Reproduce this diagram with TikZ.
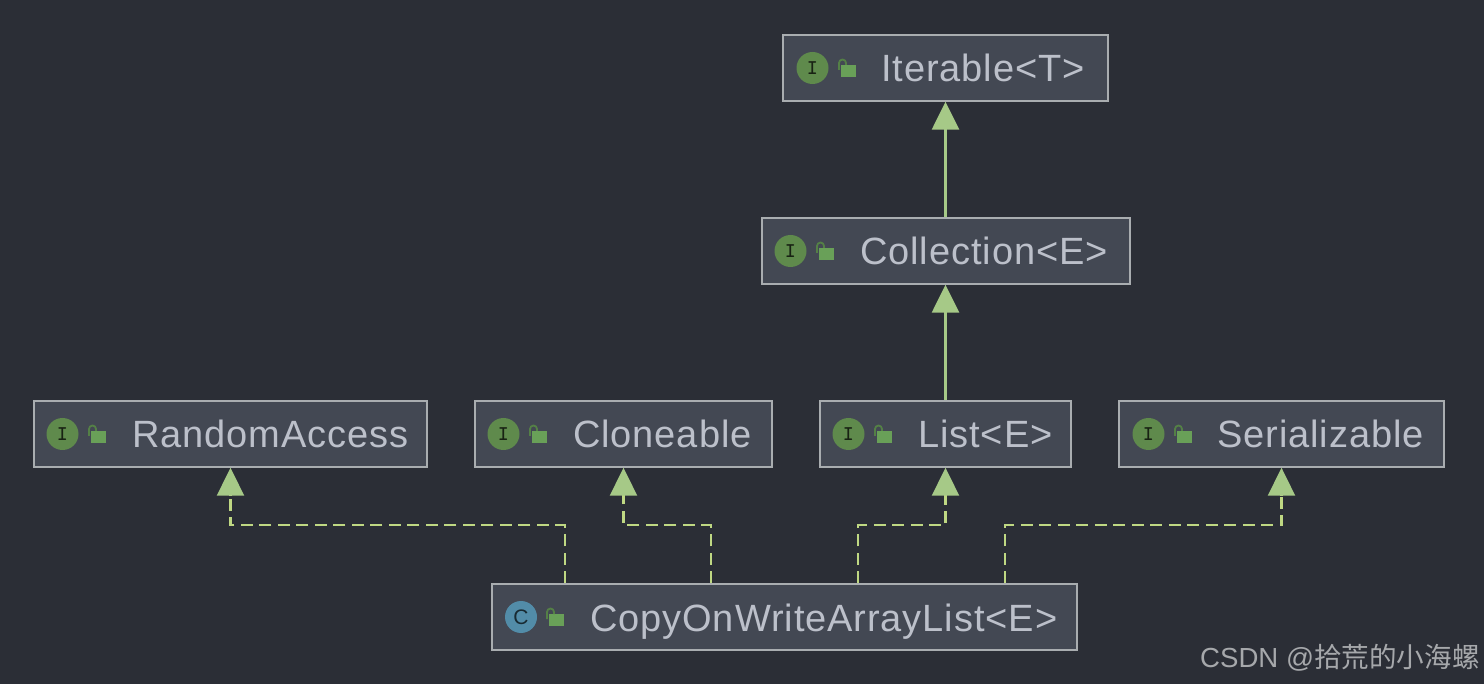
\documentclass[tikz,border=0pt]{standalone}
\usepackage{fontspec}
\setmainfont{Liberation Sans}
\newfontfamily\cjk{Noto Sans CJK SC}
\newfontfamily\spaced[LetterSpace=2.4]{Liberation Sans}
\usetikzlibrary{arrows.meta,calc}
\definecolor{bgc}{HTML}{2B2E36}
\definecolor{boxc}{HTML}{434853}
\definecolor{edgec}{HTML}{A9ADB0}
\definecolor{textc}{HTML}{BCC0CA}
\definecolor{greenc}{HTML}{5F8A4C}
\definecolor{bluec}{HTML}{528CA8}
\definecolor{lockc}{HTML}{69A058}
\definecolor{arrowc}{HTML}{A6C987}
\definecolor{dashc}{HTML}{BFD883}
\definecolor{markc}{HTML}{A6A8AB}
\tikzset{
 x=1pt,y=-1pt,
 typebox/.style={draw=edgec,line width=1.4pt,fill=boxc,inner sep=0pt,minimum height=66pt},
 typename/.style={anchor=base west,text=textc,inner sep=0pt,font=\spaced\fontsize{38}{40}\selectfont},
 iconcirc/.style={circle,inner sep=0pt,minimum size=32pt},
 iface/.style={iconcirc,fill=greenc,text=black!75!greenc,font=\fontsize{21}{22}\ttfamily\bfseries},
 klass/.style={iconcirc,fill=bluec,text=black!70!bluec,font=\fontsize{21}{22}\selectfont},
 solidlink/.style={draw=arrowc,line width=2.6pt,-{Triangle[length=28pt,width=27pt,fill=arrowc]}},
 dashlink/.style={draw=dashc,line width=2.1pt,dash pattern=on 12pt off 6.5pt},
 dashtip/.style={draw=dashc,line width=2.1pt,-{Triangle[length=28pt,width=27pt,color=arrowc,fill=arrowc]}},
}
\newcommand{\lockicon}[2]{%
 \fill[lockc] (#1+4,#2-3) rectangle (#1+19,#2+9);
 \draw[lockc!80!black,line width=1.8pt] (#1+2,#2+2) -- (#1+2,#2-5) arc[start angle=180,end angle=0,x radius=3.5,y radius=-3.5] -- (#1+9,#2-3);
}
\begin{document}
\begin{tikzpicture}
\useasboundingbox[fill=bgc] (0,0) rectangle (1484,684);
\node[typebox,minimum width=325pt] (iter) at (945.5,68) {};
\node[typebox,minimum width=368pt] (coll) at (946,251) {};
\node[typebox,minimum width=393pt] (ra) at (230.5,434) {};
\node[typebox,minimum width=297pt] (clon) at (623.5,434) {};
\node[typebox,minimum width=251pt] (list) at (945.5,434) {};
\node[typebox,minimum width=325pt] (ser) at (1281.5,434) {};
\node[typebox,minimum width=585pt] (cow) at (784.5,617) {};
% icons
\node[iface] (i1) at (812.5,68) {I}; \lockicon{837}{68}
\node[iface] (i2) at (790.5,251) {I}; \lockicon{815}{251}
\node[iface] (i3) at (62.5,434) {I}; \lockicon{87}{434}
\node[iface] (i4) at (503.5,434) {I}; \lockicon{528}{434}
\node[iface] (i5) at (848.5,434) {I}; \lockicon{873}{434}
\node[iface] (i6) at (1148.5,434) {I}; \lockicon{1173}{434}
\node[klass] (i7) at (521,617) {C}; \lockicon{545}{617}
% names
\node[typename] (n1) at (881,82) {Iterable<T>};
\node[typename] (n2) at (860,265) {Collection<E>};
\node[typename] (n3) at (132,448) {RandomAccess};
\node[typename] (n4) at (573,448) {Cloneable};
\node[typename] (n5) at (918,448) {List<E>};
\node[typename] (n6) at (1217,448) {Serializable};
\node[typename] (n7) at (590,631) {CopyOnWriteArrayList<E>};
% solid links
\draw[solidlink] (coll.north -| iter.south) -- (iter.south);
\draw[solidlink] (list.north) -- (list.north |- coll.south);
% dashed links
\coordinate (c1) at ($(cow.north west)+(73.5,0)$);
\coordinate (c2) at ($(cow.north west)+(219.5,0)$);
\coordinate (c3) at ($(cow.north west)+(366.5,0)$);
\coordinate (c4) at ($(cow.north west)+(513.5,0)$);
\coordinate (t1) at ($(ra.south)+(0,28)$);
\coordinate (t2) at ($(clon.south)+(0,28)$);
\coordinate (t3) at ($(list.south)+(0,28)$);
\coordinate (t4) at ($(ser.south)+(0,28)$);
\draw[dashlink] (c1) -- ($(c1)+(0,-58)$) -| (t1);
\draw[dashlink] (c2) -- ($(c2)+(0,-58)$) -| (t2);
\draw[dashlink] (c3) -- ($(c3)+(0,-58)$) -| (t3);
\draw[dashlink] (c4) -- ($(c4)+(0,-58)$) -| (t4);
\draw[dashtip] (t1) -- (ra.south);
\draw[dashtip] (t2) -- (clon.south);
\draw[dashtip] (t3) -- (list.south);
\draw[dashtip] (t4) -- (ser.south);
% watermark
\node[anchor=base west,inner sep=0pt,text=markc,font=\fontsize{27.6}{30}\selectfont] (mark) at (1200,667) {CSDN @{\cjk 拾荒的小海螺}};
\end{tikzpicture}
\end{document}
